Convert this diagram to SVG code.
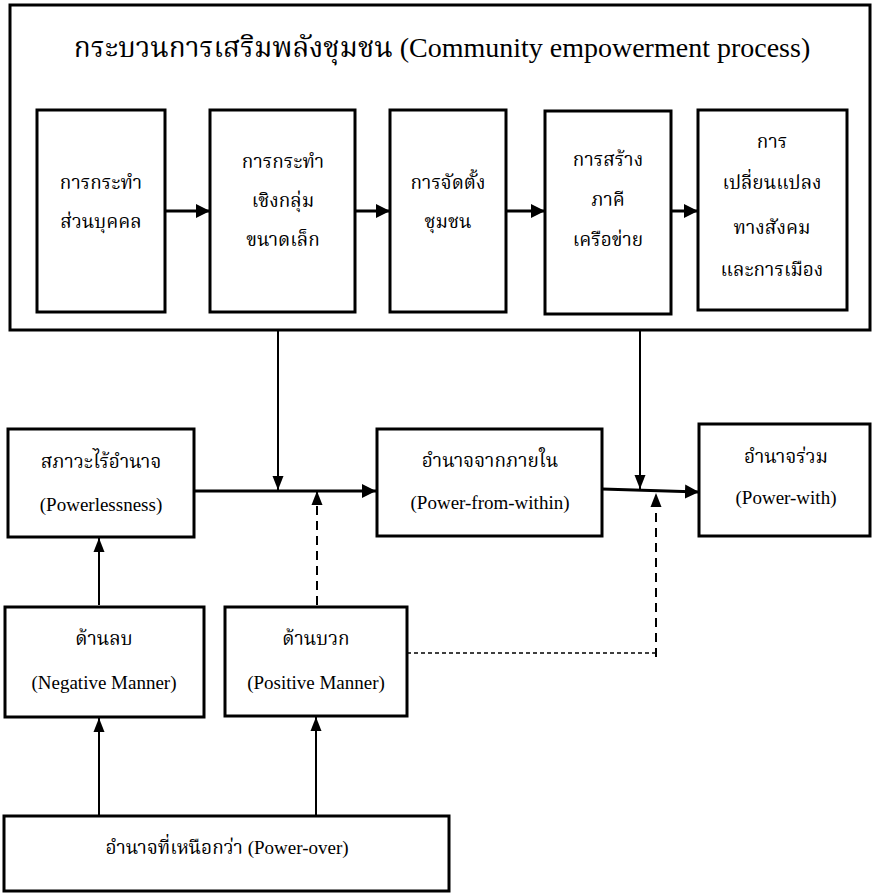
<svg xmlns="http://www.w3.org/2000/svg" width="875" height="893" viewBox="0 0 875 893">
<style>
.box{fill:#fff;stroke:#000;stroke-width:3}
.t{font-family:"Liberation Serif","Noto Serif Thai","Noto Sans Thai",serif;font-size:19px;text-anchor:middle;fill:#000}
.title{font-size:28px}
.c{fill:none;stroke:#000;stroke-width:2}
.thick{stroke-width:3}
.dash{stroke-dasharray:9 6}
.dot{stroke-width:1.5;stroke-dasharray:4 3}
</style>
<defs>
<marker id="ah" markerUnits="userSpaceOnUse" markerWidth="16" markerHeight="16" refX="14" refY="8" orient="auto"><path d="M0,1 L14,8 L0,15 Z" fill="#000"/></marker>
<marker id="as" markerUnits="userSpaceOnUse" markerWidth="16" markerHeight="14" refX="14" refY="7" orient="auto"><path d="M0,1.5 L14,7 L0,12.5 Z" fill="#000"/></marker>
</defs>
<g id="outer"><rect class="box" x="10" y="5" width="860" height="325"/>
<text class="t title" x="442" y="57">กระบวนการเสริมพลังชุมชน (Community empowerment process)</text></g>
<g id="n1"><rect class="box" x="37" y="110" width="128" height="202"/>
<text class="t" x="101" y="189">การกระทำ</text><text class="t" x="101" y="228">ส่วนบุคคล</text></g>
<g id="n2"><rect class="box" x="210" y="110" width="145" height="202"/>
<text class="t" x="283" y="168">การกระทำ</text><text class="t" x="283" y="207">เชิงกลุ่ม</text><text class="t" x="283" y="246">ขนาดเล็ก</text></g>
<g id="n3"><rect class="box" x="390" y="110" width="116" height="202"/>
<text class="t" x="448" y="189">การจัดตั้ง</text><text class="t" x="448" y="228">ชุมชน</text></g>
<g id="n4"><rect class="box" x="545" y="111" width="126" height="203"/>
<text class="t" x="608" y="166">การสร้าง</text><text class="t" x="608" y="206">ภาคี</text><text class="t" x="608" y="246">เครือข่าย</text></g>
<g id="n5"><rect class="box" x="698" y="110" width="149" height="200"/>
<text class="t" x="772" y="148">การ</text><text class="t" x="772" y="189">เปลี่ยนแปลง</text><text class="t" x="772" y="234">ทางสังคม</text><text class="t" x="772" y="276">และการเมือง</text></g>
<g id="powerless"><rect class="box" x="8" y="429" width="186" height="108"/>
<text class="t" x="101" y="468">สภาวะไร้อำนาจ</text><text class="t" x="101" y="511">(Powerlessness)</text></g>
<g id="within"><rect class="box" x="377" y="429" width="225" height="107"/>
<text class="t" x="490" y="467">อำนาจจากภายใน</text><text class="t" x="490" y="509">(Power-from-within)</text></g>
<g id="with"><rect class="box" x="699" y="424" width="171" height="112"/>
<text class="t" x="786" y="463">อำนาจร่วม</text><text class="t" x="786" y="504">(Power-with)</text></g>
<g id="negative"><rect class="box" x="5" y="607" width="199" height="110"/>
<text class="t" x="104" y="645">ด้านลบ</text><text class="t" x="104" y="689">(Negative Manner)</text></g>
<g id="positive"><rect class="box" x="225" y="607" width="182" height="109"/>
<text class="t" x="316" y="645">ด้านบวก</text><text class="t" x="316" y="689">(Positive Manner)</text></g>
<g id="over"><rect class="box" x="4" y="816" width="445" height="75"/>
<text class="t" x="227" y="854">อำนาจที่เหนือกว่า (Power-over)</text></g>
<g id="connectors">
<line class="c thick" x1="165" y1="211" x2="210" y2="211" marker-end="url(#ah)"/>
<line class="c thick" x1="355" y1="211" x2="390" y2="211" marker-end="url(#ah)"/>
<line class="c thick" x1="506" y1="211" x2="545" y2="211" marker-end="url(#ah)"/>
<line class="c thick" x1="671" y1="211" x2="698" y2="211" marker-end="url(#ah)"/>
<line class="c" x1="278" y1="330" x2="278" y2="490" marker-end="url(#as)"/>
<line class="c" x1="640" y1="330" x2="640" y2="489" marker-end="url(#as)"/>
<line class="c thick" x1="194" y1="491" x2="376" y2="491" marker-end="url(#ah)"/>
<line class="c thick" x1="602" y1="489" x2="699" y2="492" marker-end="url(#ah)"/>
<line class="c dash" x1="317" y1="605" x2="317" y2="491" marker-end="url(#as)"/>
<line class="c dash" x1="656" y1="657" x2="656" y2="493" marker-end="url(#as)"/>
<line class="c dot" x1="407" y1="653" x2="656" y2="653"/>
<line class="c" x1="99" y1="605" x2="99" y2="538" marker-end="url(#as)"/>
<line class="c" x1="99" y1="815" x2="99" y2="718" marker-end="url(#as)"/>
<line class="c" x1="316" y1="815" x2="316" y2="717" marker-end="url(#as)"/>
</g>
</svg>
